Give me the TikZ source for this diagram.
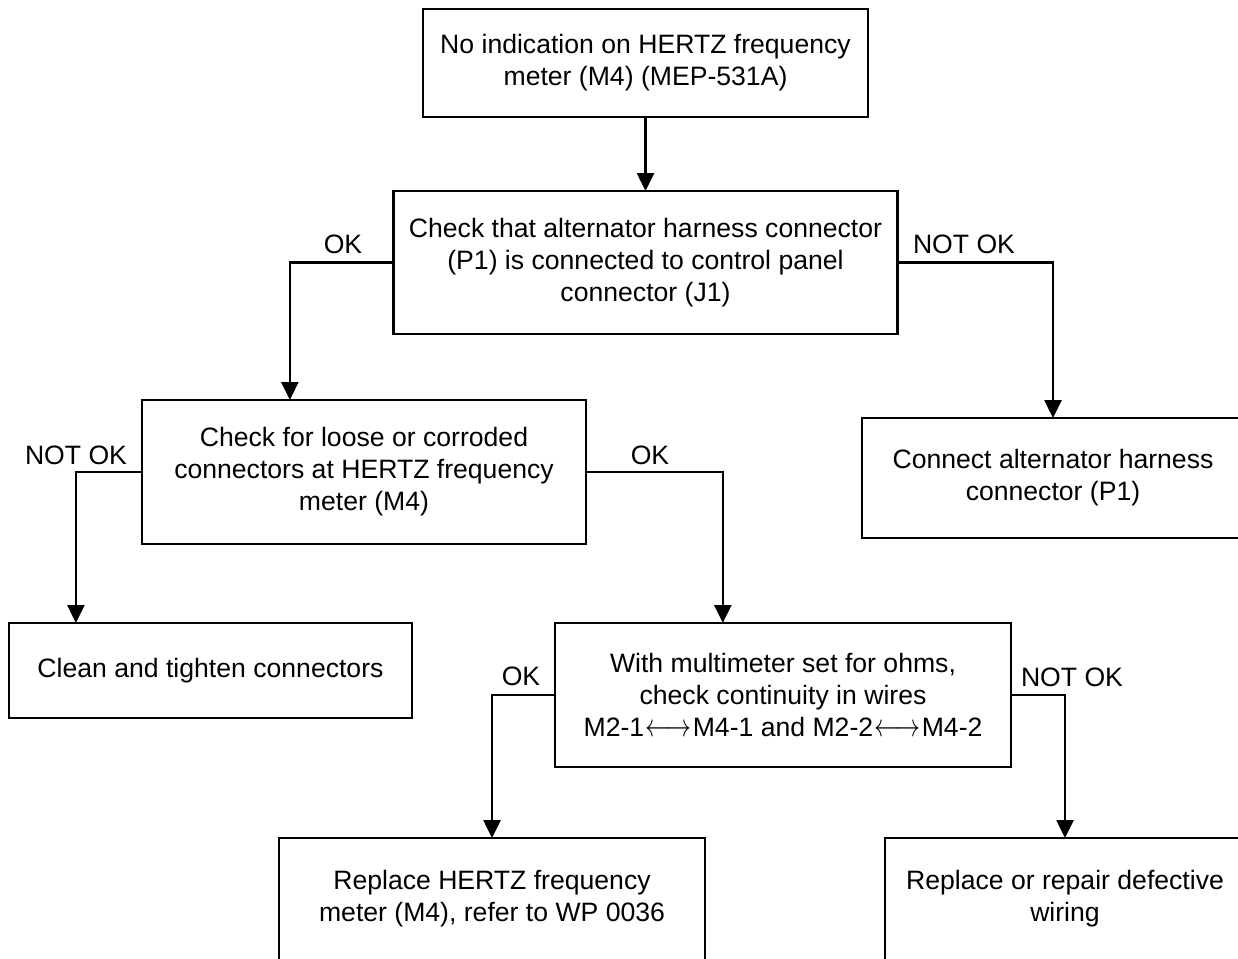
\documentclass[tikz,border=0pt]{standalone}
\usepackage{fontspec}
\setmainfont{Liberation Sans}
\usetikzlibrary{arrows.meta,calc}
\newcommand{\lrarr}{\kern1.5pt\raisebox{0.5pt}{\scalebox{1.0}[1.3]{$\longleftrightarrow$}}\kern1.5pt}
\begin{document}
\begin{tikzpicture}[x=1pt,y=-1pt,
  box/.style={draw,line width=2.6pt,rectangle,outer sep=0pt,inner sep=4pt,align=center,
    font=\fontsize{26.6}{32}\selectfont},
  arr/.style={line width=2.6pt,-{Triangle[length=18pt,width=17pt]}},
  lbl/.style={font=\fontsize{26.6}{32}\selectfont,inner sep=0pt}]
\clip (0,0) rectangle (1238,958);
\useasboundingbox (0,0) rectangle (1238,958);
\node[box,minimum width=445pt,minimum height=108pt] (b1) at (645.5,63)
  {No indication on HERTZ frequency\\meter (M4) (MEP-531A)};
\node[box,minimum width=504pt,minimum height=143pt] (b2) at (645.5,262.5)
  {Check that alternator harness connector\\(P1) is connected to control panel\\connector (J1)};
\node[box,minimum width=444pt,minimum height=144pt] (b3) at (364,472)
  {Check for loose or corroded\\connectors at HERTZ frequency\\meter (M4)};
\node[box,minimum width=382pt,minimum height=120pt] (b4) at (1053,478)
  {Connect alternator harness\\connector (P1)};
\node[box,minimum width=403pt,minimum height=95pt] (b5) at (210.5,670.5)
  {Clean and tighten connectors};
\node[box,minimum width=456pt,minimum height=144pt] (b6) at (783,695)
  {With multimeter set for ohms,\\check continuity in wires\\M2-1\lrarr M4-1 and M2-2\lrarr M4-2};
\node[box,minimum width=426pt,minimum height=122pt] (b7) at (492,899)
  {Replace HERTZ frequency\\meter (M4), refer to WP 0036};
\node[box,minimum width=360pt,minimum height=122pt] (b8) at (1065,899)
  {Replace or repair defective\\wiring};
\draw[arr] (b1.south) -- (b2.north);
\draw[arr] (b2.west) -| ($(b3.north west)!0.333!(b3.north east)$);
\draw[arr] (b2.east) -| (b4.north);
\draw[arr] (b3.west) -| ($(b5.north west)!0.166!(b5.north east)$);
\draw[arr] (b3.east) -| ($(b6.north west)!0.368!(b6.north east)$);
\draw[arr] (b6.west) -| (b7.north);
\draw[arr] (b6.east) -| (b8.north);
\node[lbl] (l1) at (343,244) {OK};
\node[lbl] (l2) at (964,244) {NOT OK};
\node[lbl] (l3) at (76,455) {NOT OK};
\node[lbl] (l4) at (650,455) {OK};
\node[lbl] (l5) at (521,676) {OK};
\node[lbl] (l6) at (1072,677) {NOT OK};
\end{tikzpicture}
\end{document}
